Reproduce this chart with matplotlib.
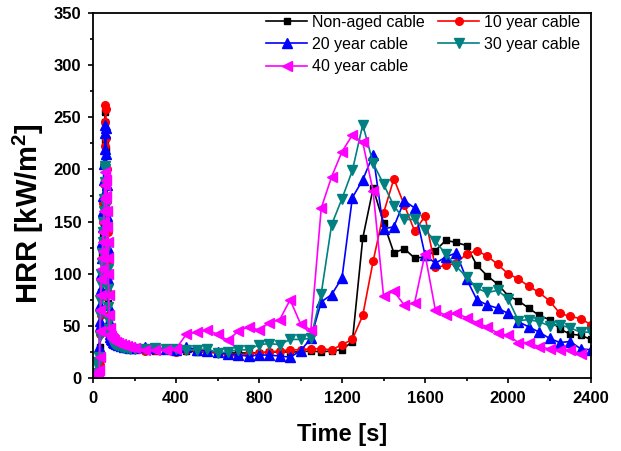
import matplotlib
matplotlib.use('Agg')
import matplotlib.pyplot as plt
import numpy as np
from matplotlib.ticker import MultipleLocator

plt.rcParams['font.family'] = ['Liberation Sans', 'DejaVu Sans']
plt.rcParams['mathtext.fontset'] = 'custom'
plt.rcParams['mathtext.rm'] = 'Liberation Sans:bold'
plt.rcParams['mathtext.bf'] = 'Liberation Sans:bold'

# time [s]: dense sampling around ignition, then every 50 s
t_early = [0, 10, 20, 26, 30, 32, 34, 36, 38, 40, 42, 44, 46, 48, 50, 52, 54, 56, 58, 60,
           62, 64, 66, 68, 70, 72, 74, 76, 78, 80, 84, 88, 92, 96, 100, 110, 120, 135, 150,
           165, 180, 200]
t_late = [250, 300, 350, 400, 450, 500, 550, 600, 650, 700, 750, 800, 850, 900, 950, 1000,
          1050, 1100, 1150, 1200, 1250, 1300, 1350, 1400, 1450, 1500, 1550, 1600, 1650, 1700,
          1750, 1800, 1850, 1900, 1950, 2000, 2050, 2100, 2150, 2200, 2250, 2300, 2350, 2400]
time = t_early + t_late

# HRR [kW/m2]
hrr_0 = [2, 2, 3, 4, 6, 15, 30, 48, 65, 82, 100, 118, 135, 152, 170, 188, 205, 228, 255, 245,
         220, 195, 170, 145, 120, 95, 72, 55, 46, 42, 39, 37, 36, 35, 34, 33, 32, 31, 30,
         29, 28, 28,
         27, 26, 27, 26, 26, 25, 25, 24, 24, 24, 24, 24, 25, 25, 25, 25,
         26, 25, 26, 27, 35, 134, 182, 149, 120, 124, 115, 116, 122, 132,
         130, 127, 108, 98, 90, 79, 74, 67, 60, 56, 47, 42, 41, 37]
hrr_10 = [1, 2, 2, 3, 5, 12, 25, 42, 60, 78, 96, 114, 132, 150, 168, 186, 204, 222, 245, 262,
          258, 230, 200, 170, 140, 110, 82, 60, 48, 43, 40, 38, 36, 35, 34, 33, 32, 31, 30,
          29, 28, 28,
          26, 27, 28, 25, 27, 26, 25, 24, 22, 21, 23, 24, 25, 26, 27, 27,
          28, 28, 27, 32, 37, 60, 112, 158, 191, 166, 141, 155, 106, 108,
          110, 119, 122, 117, 109, 100, 95, 88, 82, 74, 62, 59, 57, 51]
hrr_20 = [5, 4, 5, 8, 30, 50, 55, 70, 85, 100, 115, 130, 145, 160, 175, 190, 205, 220, 235, 243,
          240, 215, 185, 155, 125, 95, 70, 55, 46, 42, 39, 37, 36, 35, 34, 33, 32, 31, 30,
          30, 29, 29,
          30, 29, 28, 27, 30, 27, 26, 25, 23, 22, 21, 22, 22, 21, 20, 26,
          38, 73, 80, 96, 173, 190, 214, 143, 145, 170, 163, 118, 110, 116,
          120, 95, 75, 70, 67, 62, 54, 49, 44, 38, 34, 35, 28, 27]
hrr_30 = [3, 5, 12, 15, 20, 40, 60, 75, 90, 100, 110, 120, 130, 140, 150, 160, 172, 188, 203, 200,
          185, 165, 145, 125, 105, 85, 68, 55, 47, 42, 39, 37, 35, 34, 33, 32, 31, 30, 29,
          29, 28, 28,
          28, 29, 28, 28, 27, 27, 28, 24, 25, 27, 27, 32, 33, 32, 37, 37,
          38, 81, 147, 172, 199, 243, 206, 186, 165, 152, 152, 142, 131, 119,
          107, 97, 86, 82, 84, 76, 55, 56, 54, 50, 51, 48, 44, 44]
hrr_40 = [2, 3, 4, 5, 8, 20, 45, 65, 80, 95, 105, 115, 122, 130, 140, 150, 160, 172, 185, 198,
          190, 175, 160, 145, 130, 115, 100, 80, 60, 48, 42, 40, 38, 37, 36, 35, 34, 33, 32,
          31, 30, 29,
          27, 27, 27, 28, 42, 44, 46, 42, 36, 45, 49, 46, 53, 56, 75, 52,
          46, 163, 193, 217, 233, 226, 179, 79, 83, 70, 72, 119, 65, 60,
          62, 58, 53, 49, 43, 41, 34, 34, 30, 28, 27, 27, 23, np.nan]

labels = ['Non-aged cable', '10 year cable', '20 year cable', '30 year cable', '40 year cable']
colors = ['black', '#FF0000', '#0000FF', '#008080', '#FF00FF']
markers = ['s', 'o', '^', 'v', '<']
sizes = [5, 5.5, 6.5, 6.5, 6.5]

fig = plt.figure(figsize=(6.21, 4.51), dpi=100)
ax = fig.add_axes([93 / 621, 1 - 378 / 451, 498 / 621, 365 / 451])

lines = []
for y, lab, c, m, ms in zip([hrr_0, hrr_10, hrr_20, hrr_30, hrr_40], labels, colors, markers, sizes):
    ln, = ax.plot(time, y, color=c, marker=m, markersize=ms, linewidth=1.2, label=lab)
    lines.append(ln)

ax.set_xlim(0, 2400)
ax.set_ylim(0, 350)
ax.xaxis.set_major_locator(MultipleLocator(400))
ax.xaxis.set_minor_locator(MultipleLocator(200))
ax.yaxis.set_major_locator(MultipleLocator(50))
ax.yaxis.set_minor_locator(MultipleLocator(25))
ax.tick_params(which='both', direction='out', top=False, right=False, width=1.2)
ax.tick_params(which='major', length=3.5, labelsize=12)
ax.tick_params(which='minor', length=2)
ax.tick_params(axis='x', which='major', pad=6)
ax.tick_params(axis='y', which='major', pad=5)
for lbl in ax.get_xticklabels() + ax.get_yticklabels():
    lbl.set_fontweight('bold')
for sp in ax.spines.values():
    sp.set_linewidth(1.3)

ax.set_xlabel('Time [s]', fontsize=17, fontweight='bold', labelpad=12)
fig.text(28 / 621, 1 - 214 / 451, r'HRR [kW/m$^{2}$]', fontsize=21, fontweight='bold',
         rotation=90, ha='center', va='center')

order = [0, 2, 4, 1, 3]
ax.legend([lines[i] for i in order], [labels[i] for i in order], ncol=2, frameon=False,
          loc='upper right', bbox_to_anchor=(1 - 6 / 498, 1 + 3 / 365), fontsize=11.5,
          handlelength=2.6, handletextpad=0.3, columnspacing=0.8,
          labelspacing=0.45, borderaxespad=0.2, borderpad=0.1)

fig.savefig('out.png', dpi=100)
